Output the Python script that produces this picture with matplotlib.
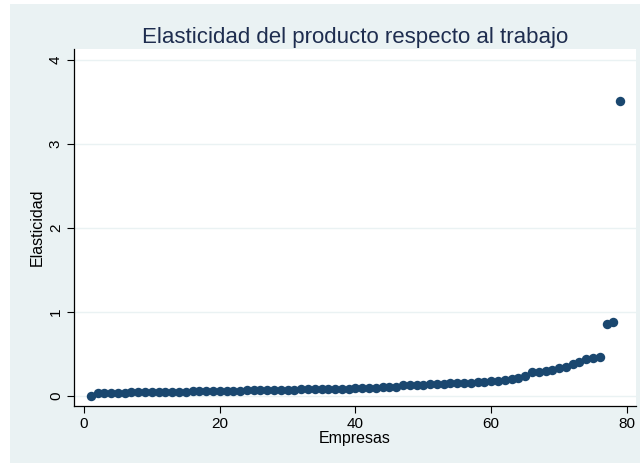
import numpy as np
import matplotlib.pyplot as plt
from matplotlib.patches import Rectangle

plt.rcParams['font.family'] = ['Liberation Sans', 'DejaVu Sans']

# elasticidad ordenada de menor a mayor, una por empresa
empresas = list(range(1, 80))
elasticidad = [
    0.005, 0.030, 0.033, 0.036, 0.038, 0.040, 0.042, 0.043, 0.045, 0.046,
    0.047, 0.049, 0.050, 0.052, 0.053, 0.055, 0.056, 0.058, 0.060, 0.061,
    0.062, 0.063, 0.064, 0.066, 0.067, 0.068, 0.069, 0.070, 0.071, 0.072,
    0.074, 0.080, 0.081, 0.082, 0.083, 0.084, 0.085, 0.086, 0.088, 0.090,
    0.094, 0.097, 0.100, 0.104, 0.107, 0.112, 0.128, 0.131, 0.133, 0.136,
    0.139, 0.142, 0.146, 0.150, 0.153, 0.155, 0.158, 0.162, 0.168, 0.175,
    0.183, 0.190, 0.198, 0.210, 0.240, 0.280, 0.290, 0.300, 0.310, 0.335,
    0.345, 0.380, 0.410, 0.440, 0.455, 0.465, 0.860, 0.880, 3.510,
]
xticks = [0, 20, 40, 60, 80]
yticks = [0, 1, 2, 3, 4]

W, H = 640, 465
fig = plt.figure(figsize=(W / 100, H / 100), dpi=100)
fig.patch.set_facecolor('white')

# fondo gris azulado del grafico
fig.add_artist(Rectangle((10 / W, 1 - 463 / H), (W - 10) / W, (463 - 4) / H,
                         transform=fig.transFigure, facecolor='#EAF2F3',
                         edgecolor='none', zorder=-10))

ax = fig.add_axes([74 / W, 1 - 406 / H, (636 - 74) / W, (406 - 49) / H])
ax.set_facecolor('white')

ax.plot(empresas, elasticidad, 'o', color='#1A476F', markersize=6.8,
        markeredgewidth=0, zorder=3, clip_on=False)

ax.set_xlim(-1.47, 81.33)
ax.set_ylim(-0.119, 4.125)
ax.set_xticks(xticks)
ax.set_yticks(yticks)
ax.set_yticklabels([str(v) for v in yticks], rotation=90, va='center')
ax.grid(axis='y', color='#EAF2F3', linewidth=1.0, zorder=1)
ax.set_axisbelow(True)

for side in ('top', 'right'):
    ax.spines[side].set_visible(False)
for side in ('left', 'bottom'):
    ax.spines[side].set_color('black')
    ax.spines[side].set_linewidth(0.9)

ax.tick_params(direction='out', length=5, width=0.8, colors='black',
               labelsize=11, pad=3)

ax.set_xlabel('Empresas', fontsize=11.5, labelpad=0)
ax.set_ylabel('Elasticidad', fontsize=11.5, labelpad=3)
ax.set_title('Elasticidad del producto respecto al trabajo', fontsize=16,
             color='#1E2D4F', pad=4)

fig.savefig('out.png', dpi=100)
